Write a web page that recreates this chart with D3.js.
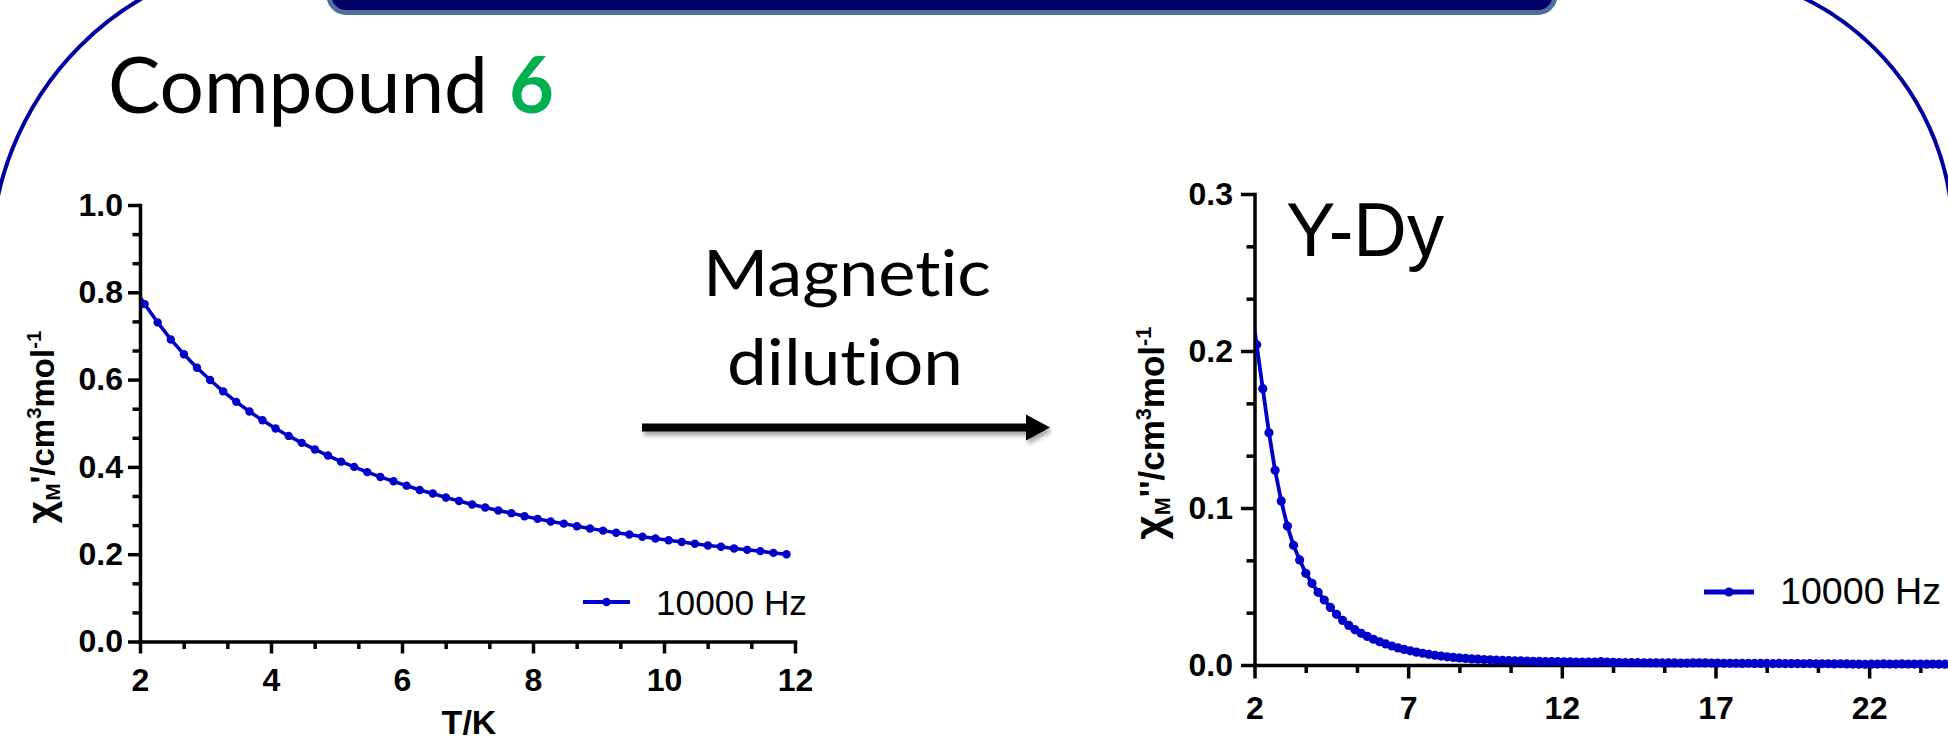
<!DOCTYPE html>
<html>
<head>
<meta charset="utf-8">
<script src="https://cdn.jsdelivr.net/npm/d3@7"></script>
<style>
  html, body { margin: 0; padding: 0; background: #ffffff; }
  svg { display: block; }
  text { font-variant-ligatures: none; font-feature-settings: "liga" 0, "clig" 0; }
</style>
</head>
<body>
<svg id="fig" width="1948" height="740"></svg>
<script>
// ---- Compound 6: in-phase susceptibility chi_M' vs T at 10000 Hz ----
const tempA = [1.87, 2.07, 2.27, 2.47, 2.67, 2.87, 3.07, 3.27, 3.47, 3.67,
  3.87, 4.07, 4.27, 4.47, 4.67, 4.87, 5.07, 5.27, 5.47, 5.67,
  5.87, 6.07, 6.27, 6.47, 6.67, 6.87, 7.07, 7.27, 7.47, 7.67,
  7.87, 8.07, 8.27, 8.47, 8.67, 8.87, 9.07, 9.27, 9.47, 9.67,
  9.87, 10.07, 10.27, 10.47, 10.67, 10.87, 11.07, 11.27, 11.47, 11.67, 11.87];
const chiInPhase = [0.821, 0.773, 0.731, 0.692, 0.658, 0.627, 0.599, 0.573, 0.549, 0.527,
  0.507, 0.488, 0.471, 0.455, 0.440, 0.426, 0.412, 0.400, 0.388, 0.377,
  0.367, 0.357, 0.347, 0.339, 0.330, 0.322, 0.314, 0.307, 0.300, 0.294,
  0.287, 0.281, 0.275, 0.270, 0.264, 0.259, 0.254, 0.249, 0.245, 0.240,
  0.236, 0.232, 0.228, 0.224, 0.220, 0.217, 0.213, 0.210, 0.207, 0.203, 0.200];

// ---- Y-Dy diluted sample: out-of-phase susceptibility chi_M'' vs T at 10000 Hz ----
const tempB = [1.87, 2.07, 2.27, 2.47, 2.67, 2.87, 3.07, 3.27, 3.47, 3.67,
  3.87, 4.07, 4.27, 4.47, 4.67, 4.87, 5.07, 5.27, 5.47, 5.67,
  5.87, 6.07, 6.27, 6.47, 6.67, 6.87, 7.07, 7.27, 7.47, 7.67,
  7.87, 8.07, 8.27, 8.47, 8.67, 8.87, 9.07, 9.27, 9.47, 9.67,
  9.87, 10.07, 10.27, 10.47, 10.67, 10.87, 11.07, 11.27, 11.47, 11.67,
  11.87, 12.07, 12.27, 12.47, 12.67, 12.87, 13.07, 13.27, 13.47, 13.67,
  13.87, 14.07, 14.27, 14.47, 14.67, 14.87, 15.07, 15.27, 15.47, 15.67,
  15.87, 16.07, 16.27, 16.47, 16.67, 16.87, 17.07, 17.27, 17.47, 17.67,
  17.87, 18.07, 18.27, 18.47, 18.67, 18.87, 19.07, 19.27, 19.47, 19.67,
  19.87, 20.07, 20.27, 20.47, 20.67, 20.87, 21.07, 21.27, 21.47, 21.67,
  21.87, 22.07, 22.27, 22.47, 22.67, 22.87, 23.07, 23.27, 23.47, 23.67,
  23.87, 24.07, 24.27, 24.47, 24.67];
const chiOutPhase = [0.233, 0.204, 0.176, 0.148, 0.124, 0.1045, 0.0885, 0.0762, 0.0669, 0.0584,
  0.0520, 0.0463, 0.0414, 0.0367, 0.0323, 0.0284, 0.0252, 0.0225, 0.0202, 0.0182,
  0.0164, 0.0148, 0.0134, 0.0121, 0.0109, 0.0099, 0.0090, 0.0082, 0.0075, 0.0068,
  0.0062, 0.0057, 0.0052, 0.0048, 0.0045, 0.0042, 0.0039, 0.0037, 0.0035, 0.0033,
  0.0031, 0.0030, 0.0028, 0.0027, 0.0026, 0.0025, 0.0024, 0.0023, 0.0022, 0.0022,
  0.0021, 0.0020, 0.0020, 0.0019, 0.0019, 0.0018, 0.0019, 0.0021, 0.0018, 0.0017,
  0.0016, 0.0016, 0.0015, 0.0015, 0.0014, 0.0014, 0.0014, 0.0013, 0.0013, 0.0013,
  0.0012, 0.0012, 0.0013, 0.0014, 0.0013, 0.0012, 0.0012, 0.0011, 0.0011, 0.0011,
  0.0010, 0.0011, 0.0010, 0.0010, 0.0010, 0.0009, 0.0010, 0.0009, 0.0009, 0.0009,
  0.0008, 0.0009, 0.0008, 0.0008, 0.0008, 0.0007, 0.0008, 0.0007, 0.0006, 0.0005,
  0.0004, 0.0005, 0.0006, 0.0007, 0.0006, 0.0006, 0.0007, 0.0006, 0.0006, 0.0006,
  0.0005, 0.0006, 0.0005, 0.0005, 0.0005];

// ---- tick values ----
const ticksAx = [2, 4, 6, 8, 10, 12];
const ticksAy = [0.0, 0.2, 0.4, 0.6, 0.8, 1.0];
const ticksBx = [2, 7, 12, 17, 22];
const ticksBy = [0.0, 0.1, 0.2, 0.3];

const seriesName = "10000 Hz";
const lineColor = "#0000c8";
const chartFont = "'Liberation Sans', Arial, Helvetica, sans-serif";
const slideFont = "Lato, 'Open Sans', sans-serif";

const svg = d3.select("#fig");
svg.append("rect").attr("width", 1948).attr("height", 740).attr("fill", "#ffffff");

// ---- slide decoration: rounded frame and title bar ----
const defs = svg.append("defs");
const shadow = defs.append("filter").attr("id", "arrowShadow")
  .attr("x", "-5%").attr("y", "-50%").attr("width", "110%").attr("height", "200%");
shadow.append("feDropShadow").attr("dx", 2).attr("dy", 4).attr("stdDeviation", 2.2)
  .attr("flood-color", "#000").attr("flood-opacity", 0.35);

svg.append("path")
  .attr("d", "M -9 420 L -9 261 A 304 304 0 0 1 295 -43")
  .attr("fill", "none").attr("stroke", "#0000a0").attr("stroke-width", 4);
svg.append("path")
  .attr("d", "M 1687 -29 A 266 266 0 0 1 1953 237 L 1953 420")
  .attr("fill", "none").attr("stroke", "#0000a0").attr("stroke-width", 4);

svg.append("rect")
  .attr("x", 329).attr("y", -45).attr("width", 1226).attr("height", 57.5)
  .attr("rx", 17).attr("ry", 17)
  .attr("fill", "#000066").attr("stroke", "#4e6e9c").attr("stroke-width", 5);

// ---- title ----
svg.append("text")
  .attr("x", 108).attr("y", 113)
  .attr("font-family", slideFont).attr("font-size", 77)
  .attr("textLength", 380).attr("lengthAdjust", "spacingAndGlyphs")
  .attr("fill", "#000").text("Compound");
svg.append("text")
  .attr("x", 509).attr("y", 113)
  .attr("font-family", slideFont).attr("font-size", 78).attr("font-weight", "bold")
  .attr("textLength", 45).attr("lengthAdjust", "spacingAndGlyphs")
  .attr("fill", "#00b050").text("6");

// ---- "Magnetic dilution" with arrow ----
svg.append("text")
  .attr("x", 847).attr("y", 296).attr("text-anchor", "middle")
  .attr("font-family", slideFont).attr("font-size", 64)
  .attr("textLength", 288).attr("lengthAdjust", "spacingAndGlyphs")
  .text("Magnetic");
svg.append("text")
  .attr("x", 845).attr("y", 385).attr("text-anchor", "middle")
  .attr("font-family", slideFont).attr("font-size", 64)
  .attr("textLength", 236).attr("lengthAdjust", "spacingAndGlyphs")
  .text("dilution");

const arrow = svg.append("g").attr("filter", "url(#arrowShadow)");
arrow.append("line")
  .attr("x1", 642).attr("x2", 1030).attr("y1", 427.5).attr("y2", 427.5)
  .attr("stroke", "#000").attr("stroke-width", 8);
arrow.append("path")
  .attr("d", "M 1026 414.5 L 1050 427.5 L 1026 440.5 Z").attr("fill", "#000");

// ---- generic chart drawing ----
// two minor ticks between neighbouring major ticks, continuing past the
// last labelled tick while still inside the axis domain
function thirds(major, domainMax) {
  const step = (major[1] - major[0]) / 3;
  const out = [];
  for (let v = major[0] + step; v < domainMax - step / 2; v += step) {
    if (Math.abs(Math.round((v - major[0]) / (3 * step)) * 3 * step - (v - major[0])) > step / 4) out.push(v);
  }
  return out;
}

function styleAxis(sel, fontSize) {
  sel.selectAll("path.domain").attr("stroke", "#000").attr("stroke-width", 3.5)
    .attr("stroke-linecap", "square");
  sel.selectAll(".tick line").attr("stroke", "#000").attr("stroke-width", 3.5);
  sel.selectAll(".tick text")
    .attr("font-family", chartFont).attr("font-size", fontSize)
    .attr("font-weight", "bold").attr("fill", "#000");
  sel.attr("font-family", null).attr("font-size", null);
}

function drawChart(o) {
  const g = svg.append("g");
  const x = d3.scaleLinear().domain(o.xDomain).range(o.xRange);
  const y = d3.scaleLinear().domain(o.yDomain).range(o.yRange);
  const x0 = o.xRange[0], y0 = o.yRange[0];

  // minor ticks
  const xm = g.append("g").attr("transform", `translate(0,${y0})`)
    .call(d3.axisBottom(x).tickValues(thirds(o.xTicks, o.xDomain[1])).tickSize(o.minorLen).tickFormat(""));
  xm.select("path.domain").remove();
  styleAxis(xm, o.tickFont);
  const ym = g.append("g").attr("transform", `translate(${x0},0)`)
    .call(d3.axisLeft(y).tickValues(thirds(o.yTicks, o.yDomain[1])).tickSize(o.minorLen).tickFormat(""));
  ym.select("path.domain").remove();
  styleAxis(ym, o.tickFont);

  // major ticks with labels
  const xa = g.append("g").attr("transform", `translate(0,${y0})`)
    .call(d3.axisBottom(x).tickValues(o.xTicks).tickSize(o.majorLen).tickSizeOuter(0)
      .tickPadding(o.xPad).tickFormat(d3.format("d")));
  styleAxis(xa, o.tickFont);
  const ya = g.append("g").attr("transform", `translate(${x0},0)`)
    .call(d3.axisLeft(y).tickValues(o.yTicks).tickSize(o.majorLen).tickSizeOuter(0)
      .tickPadding(o.yPad).tickFormat(d3.format(".1f")));
  styleAxis(ya, o.tickFont);

  // y axis title: chi_M' / cm^3 mol^-1
  const yt = g.append("text")
    .attr("transform", `translate(${o.yTitleX},${o.yTitleY}) rotate(-90)`)
    .attr("text-anchor", "middle")
    .attr("font-family", chartFont).attr("font-weight", "bold")
    .attr("font-size", o.titleFont).attr("fill", "#000");
  const sm = o.titleFont * 0.62;
  yt.append("tspan").attr("font-size", o.titleFont * 1.2).text("\u03C7");
  yt.append("tspan").attr("font-size", sm).attr("dy", o.titleFont * 0.18).text("M");
  yt.append("tspan").attr("dy", -o.titleFont * 0.18).text(o.prime + "/cm");
  yt.append("tspan").attr("font-size", sm).attr("dy", -o.titleFont * 0.38).text("3");
  yt.append("tspan").attr("dy", o.titleFont * 0.38).text("mol");
  yt.append("tspan").attr("font-size", sm).attr("dy", -o.titleFont * 0.38).text("-1");

  if (o.xTitle) {
    g.append("text").attr("x", o.xTitle.x).attr("y", o.xTitle.y)
      .attr("text-anchor", "middle").attr("font-family", chartFont)
      .attr("font-weight", "bold").attr("font-size", o.xTitle.size)
      .text(o.xTitle.text);
  }

  // data, clipped to the plotting region
  const clipId = "clip-" + o.id;
  defs.append("clipPath").attr("id", clipId).append("rect")
    .attr("x", x0 + 1.5).attr("y", 0)
    .attr("width", 1948 - x0).attr("height", 740);
  const pts = o.xs.map((t, i) => [t, o.ys[i]]);
  const data = g.append("g").attr("clip-path", `url(#${clipId})`);
  data.append("path").datum(pts)
    .attr("fill", "none").attr("stroke", lineColor).attr("stroke-width", o.lineW)
    .attr("stroke-linejoin", "round")
    .attr("d", d3.line().x(d => x(d[0])).y(d => y(d[1])));
  data.selectAll("circle").data(pts).join("circle")
    .attr("cx", d => x(d[0])).attr("cy", d => y(d[1]))
    .attr("r", o.dotR).attr("fill", lineColor);

  // legend
  const L = o.legend;
  g.append("line").attr("x1", L.x1).attr("x2", L.x2).attr("y1", L.y).attr("y2", L.y)
    .attr("stroke", lineColor).attr("stroke-width", L.w);
  g.append("circle").attr("cx", (L.x1 + L.x2) / 2).attr("cy", L.y).attr("r", L.r)
    .attr("fill", lineColor);
  g.append("text").attr("x", L.tx).attr("y", L.ty)
    .attr("font-family", chartFont).attr("font-size", L.size)
    .attr("textLength", L.len).attr("lengthAdjust", "spacingAndGlyphs")
    .text(seriesName);

  return { g, x, y };
}

// left chart: compound 6, chi_M'
drawChart({
  id: "a",
  xDomain: [2, 12], xRange: [140, 795],
  yDomain: [0, 1], yRange: [641.5, 205],
  xTicks: ticksAx, yTicks: ticksAy,
  majorLen: 12, minorLen: 7.5, xPad: 14.5, yPad: 5, tickFont: 32,
  titleFont: 33, prime: "'", yTitleX: 54, yTitleY: 427,
  xTitle: { text: "T/K", x: 469, y: 734, size: 34 },
  xs: tempA, ys: chiInPhase, lineW: 3.5, dotR: 4.2,
  legend: { x1: 583, x2: 630, y: 602, w: 4, r: 4.2, tx: 656, ty: 615, size: 35, len: 151 }
});

// right chart: Y-Dy, chi_M'' (axis runs on past the right edge)
const right = drawChart({
  id: "b",
  xDomain: [2, 27], xRange: [1254.5, 2022.8],
  yDomain: [0, 0.3], yRange: [665, 194],
  xTicks: ticksBx, yTicks: ticksBy,
  majorLen: 13.5, minorLen: 8, xPad: 17.5, yPad: 8, tickFont: 32,
  titleFont: 35, prime: "''", yTitleX: 1164, yTitleY: 433,
  xTitle: null,
  xs: tempB, ys: chiOutPhase, lineW: 3.8, dotR: 4.6,
  legend: { x1: 1704, x2: 1754, y: 592, w: 4.8, r: 4.6, tx: 1780, ty: 604, size: 36, len: 161 }
});

right.g.append("text")
  .attr("x", 1286).attr("y", 256)
  .attr("font-family", chartFont).attr("font-size", 76)
  .attr("textLength", 158).attr("lengthAdjust", "spacingAndGlyphs")
  .text("Y-Dy");
</script>
</body>
</html>
